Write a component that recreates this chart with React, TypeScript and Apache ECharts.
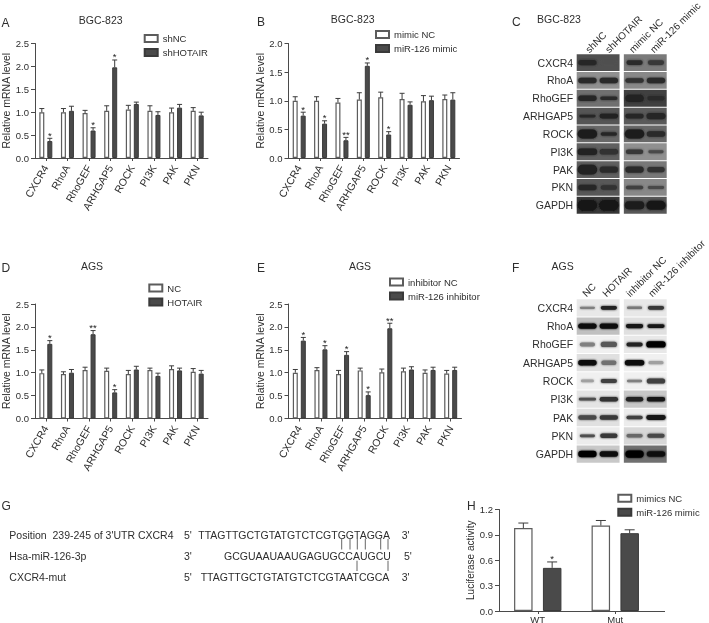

import React, { useEffect, useRef } from "react";
import * as echarts from "echarts";

const FONT = "Liberation Sans";
const TEXT = "#2e2e2e";
const AXIS = "#4a4a4a";
const DARK = "#4a4a4a";

const genes = ["CXCR4", "RhoA", "RhoGEF", "ARHGAP5", "ROCK", "PI3K", "PAK", "PKN"];
const blotRows = [...genes, "GAPDH"];

// Panel A
const aWhite = [1.0, 1.0, 0.98, 1.03, 1.06, 1.03, 1.0, 1.03];
const aWhiteErr = [1.08, 1.08, 1.04, 1.14, 1.15, 1.14, 1.09, 1.1];
const aDark = [0.37, 1.03, 0.6, 1.98, 1.18, 0.94, 1.1, 0.93];
const aDarkErr = [0.43, 1.13, 0.66, 2.14, 1.22, 1.01, 1.17, 1.0];
const aStars = ["*", "", "*", "*", "", "", "", ""];
// Panel B
const bWhite = [1.0, 1.0, 0.97, 1.02, 1.06, 1.03, 0.99, 1.03];
const bWhiteErr = [1.07, 1.07, 1.04, 1.14, 1.15, 1.13, 1.09, 1.1];
const bDark = [0.74, 0.6, 0.31, 1.61, 0.41, 0.93, 1.01, 1.02];
const bDarkErr = [0.8, 0.65, 0.36, 1.66, 0.46, 0.98, 1.08, 1.14];
const bStars = ["*", "*", "**", "*", "*", "", "", ""];
// Panel D
const dWhite = [0.99, 0.97, 1.06, 1.04, 0.97, 1.06, 1.08, 1.02];
const dWhiteErr = [1.06, 1.02, 1.12, 1.1, 1.05, 1.1, 1.15, 1.09];
const dDark = [1.63, 1.0, 1.84, 0.57, 1.07, 0.93, 1.05, 0.98];
const dDarkErr = [1.7, 1.07, 1.92, 0.63, 1.14, 0.99, 1.1, 1.05];
const dStars = ["*", "", "**", "*", "", "", "", ""];
// Panel E
const eWhite = [1.0, 1.06, 0.97, 1.05, 1.01, 1.03, 1.0, 0.98];
const eWhiteErr = [1.07, 1.11, 1.05, 1.1, 1.08, 1.1, 1.06, 1.05];
const eDark = [1.7, 1.51, 1.39, 0.51, 1.97, 1.07, 1.06, 1.06];
const eDarkErr = [1.77, 1.59, 1.46, 0.58, 2.08, 1.13, 1.12, 1.12];
const eStars = ["*", "*", "*", "*", "**", "", "", ""];
// Panel H
const hCats = ["WT", "Mut"];
const hWhite = [0.98, 1.01];
const hWhiteErr = [1.04, 1.07];
const hDark = [0.51, 0.92];
const hDarkErr = [0.58, 0.96];
const hStars = ["*", ""];

// Blot C, grey levels and band proportions
const cPanelGray = [[0x50, 0x7a], [0x90, 0x88], [0x70, 0x40], [0x55, 0x5a], [0x68, 0x68], [0x60, 0x90], [0x60, 0x78], [0x58, 0x88], [0x38, 0x58]];
const cBandGray = [[0x28, 0x50, 0x2c, 0x38], [0x2c, 0x2c, 0x30, 0x2c], [0x28, 0x2c, 0x20, 0x2c], [0x28, 0x20, 0x28, 0x28], [0x1c, 0x28, 0x1c, 0x2a], [0x20, 0x30, 0x38, 0x4a], [0x20, 0x2c, 0x2c, 0x30], [0x28, 0x30, 0x40, 0x48], [0x14, 0x14, 0x1c, 0x18]];
const cBandThick = [[0.3, 0.16, 0.26, 0.26], [0.3, 0.3, 0.26, 0.3], [0.3, 0.2, 0.4, 0.26], [0.16, 0.26, 0.26, 0.36], [0.5, 0.2, 0.5, 0.3], [0.36, 0.3, 0.26, 0.16], [0.55, 0.36, 0.36, 0.3], [0.3, 0.26, 0.2, 0.16], [0.6, 0.6, 0.45, 0.5]];
const cBandWide = [[0.95, 0.75, 0.85, 0.85], [0.95, 0.95, 0.95, 0.95], [0.95, 0.9, 0.95, 0.9], [0.85, 0.95, 0.95, 0.98], [1, 0.85, 1, 0.95], [1, 0.95, 0.9, 0.8], [1, 0.95, 0.95, 0.9], [0.95, 0.85, 0.9, 0.85], [1, 1, 1, 1]];
// Blot F
const fPanelGray = [[0xe8, 0xe8], [0xc0, 0xe0], [0xf0, 0xe8], [0xe0, 0xf0], [0xf0, 0xf0], [0xe4, 0xc8], [0xe0, 0xec], [0xec, 0xd8], [0xc8, 0x70]];
const fBandGray = [[0x80, 0x20, 0x78, 0x38], [0x08, 0x10, 0x18, 0x18], [0x80, 0x58, 0x20, 0x05], [0x08, 0x70, 0x08, 0xa0], [0xa0, 0x40, 0x80, 0x40], [0x50, 0x30, 0x20, 0x18], [0x48, 0x38, 0x40, 0x18], [0x50, 0x38, 0x68, 0x48], [0x05, 0x0c, 0x05, 0x10]];
const fBandThick = [[0.12, 0.2, 0.14, 0.2], [0.3, 0.28, 0.22, 0.2], [0.22, 0.28, 0.22, 0.35], [0.3, 0.25, 0.3, 0.18], [0.15, 0.22, 0.14, 0.28], [0.15, 0.25, 0.25, 0.25], [0.25, 0.25, 0.18, 0.27], [0.15, 0.25, 0.2, 0.22], [0.35, 0.3, 0.4, 0.3]];
const fBandWide = [[0.8, 0.85, 0.8, 0.85], [0.95, 0.95, 0.9, 0.9], [0.8, 0.85, 0.85, 1], [0.95, 0.8, 1, 0.8], [0.7, 0.85, 0.8, 0.95], [0.9, 0.95, 0.9, 0.95], [0.95, 0.95, 0.85, 1], [0.8, 0.9, 0.85, 0.9], [0.95, 0.95, 0.95, 0.95]];

const cLanes = ["shNC", "shHOTAIR", "mimic NC", "miR-126 mimic"];
const fLanes = ["NC", "HOTAIR", "inhibitor NC", "miR-126 inhibitor"];
const laneCenters = [0.5, 1.5, 2.7, 3.7];
const panelSpans = [[0, 2], [2.2, 4.2]];

const seqRows = [
  { label: "Position  239-245 of 3'UTR CXCR4", left: "5'", seq: "TTAGTTGCTGTATGTCTCGTGGTAGGA", right: "3'" },
  { label: "Hsa-miR-126-3p", left: "3'", seq: "GCGUAAUAAUGAGUGCCAUGCU", right: "5'" },
  { label: "CXCR4-mut", left: "5'", seq: "TTAGTTGCTGTATGTCTCGTAATCGCA", right: "3'" },
];

const gray = (v: number) => `rgb(${v},${v},${v})`;

function buildOption() {
  const grid: any[] = [], xAxis: any[] = [], yAxis: any[] = [], series: any[] = [], legend: any[] = [];
  const graphic: any[] = [];

  const text = (t: string, x: number, y: number, size: number, align = "left", extra: any = {}) => ({
    type: "text", x, y, silent: true, ...extra,
    style: { text: t, fontSize: size, fontFamily: FONT, fill: TEXT, align, textAlign: align, verticalAlign: "middle", textVerticalAlign: "middle" },
  });

  const barPanel = (p: any) => {
    const g = grid.length;
    grid.push({ left: p.left, top: p.top, width: p.width, height: p.height, containLabel: false, outerBoundsMode: "none" });
    xAxis.push({
      type: "category", gridIndex: g, data: p.cats,
      axisLine: { show: true, onZero: false, lineStyle: { color: AXIS, width: 1 } },
      axisTick: { show: true, length: 3, alignWithLabel: true, lineStyle: { color: AXIS } },
      axisLabel: { rotate: p.rotate, interval: 0, margin: p.labelMargin, fontSize: p.catSize, fontFamily: FONT, color: TEXT },
    });
    yAxis.push({
      type: "value", gridIndex: g, min: 0, max: p.max, interval: p.step,
      name: p.yName, nameLocation: "middle", nameGap: p.nameGap, nameRotate: 90,
      nameTextStyle: { fontSize: p.nameSize, fontFamily: FONT, color: TEXT },
      axisLine: { show: true, lineStyle: { color: AXIS, width: 1 } },
      axisTick: { show: true, length: 4, lineStyle: { color: AXIS } },
      splitLine: { show: false },
      axisLabel: { margin: 6, fontSize: 9.5, fontFamily: FONT, color: TEXT, formatter: (v: number) => v.toFixed(1) },
    });
    const mk = (name: string, vals: number[], style: any) => ({
      type: "bar", name, xAxisIndex: g, yAxisIndex: g, data: vals, barWidth: p.barW, barGap: p.barGap,
      itemStyle: style,
    });
    series.push(mk(p.names[0], p.white, { color: "#ffffff", borderColor: "#5c5c5c", borderWidth: 1.2 }));
    series.push(mk(p.names[1], p.dark, { color: DARK, borderColor: "#3a3a3a", borderWidth: 1 }));
    const err = (vals: number[], errs: number[], off: number, stars: string[] | null) => ({
      type: "custom", xAxisIndex: g, yAxisIndex: g, z: 5, silent: true,
      encode: { x: 0, y: 1 },
      data: vals.map((v, i) => [i, v, errs[i]]),
      renderItem: (params: any, api: any) => {
        const base = api.coord([api.value(0), api.value(1)]);
        const top = api.coord([api.value(0), api.value(2)]);
        const x = base[0] + off;
        const st = { stroke: "#3c3c3c", lineWidth: 1 };
        const children: any[] = [
          { type: "line", shape: { x1: x, y1: base[1], x2: x, y2: top[1] }, style: st },
          { type: "line", shape: { x1: x - p.cap, y1: top[1], x2: x + p.cap, y2: top[1] }, style: st },
        ];
        const s = stars ? stars[params.dataIndex] : "";
        if (s) {
          children.push({
            type: "text",
            style: { text: s, x, y: top[1] - 3, align: "center", verticalAlign: "middle", textAlign: "center", textVerticalAlign: "middle", fontSize: 9.5, fontFamily: FONT, fill: "#222" },
          });
        }
        return { type: "group", children };
      },
    });
    series.push(err(p.white, p.whiteErr, -p.offset, null));
    series.push(err(p.dark, p.darkErr, p.offset, p.stars));
    legend.push({
      show: true, orient: "vertical", left: p.legend[0], top: p.legend[1], itemWidth: 13, itemHeight: 7, itemGap: 4, padding: 0,
      selectedMode: false, icon: "rect", data: p.names,
      textStyle: { fontSize: 9.5, fontFamily: FONT, color: TEXT, padding: 0 },
    });
  };

  const common = { width: 173, height: 114.5, barW: 5, barGap: "60%", offset: 4, cap: 2.5, rotate: 60, labelMargin: 8, catSize: 10.5, nameSize: 10.5, cats: genes, yName: "Relative mRNA level" };
  barPanel({ ...common, left: 35, top: 43.5, max: 2.5, step: 0.5, nameGap: 23.5, names: ["shNC", "shHOTAIR"], white: aWhite, whiteErr: aWhiteErr, dark: aDark, darkErr: aDarkErr, stars: aStars, legend: [143.7, 33.5] });
  barPanel({ ...common, left: 288.5, top: 43.5, width: 171, max: 2.0, step: 0.5, nameGap: 23, names: ["mimic NC", "miR-126 mimic"], white: bWhite, whiteErr: bWhiteErr, dark: bDark, darkErr: bDarkErr, stars: bStars, legend: [375, 29.5] });
  barPanel({ ...common, left: 35, top: 304, max: 2.5, step: 0.5, nameGap: 23.5, names: ["NC", "HOTAIR"], white: dWhite, whiteErr: dWhiteErr, dark: dDark, darkErr: dDarkErr, stars: dStars, legend: [148.3, 283] });
  barPanel({ ...common, left: 288.5, top: 304, max: 2.5, step: 0.5, nameGap: 23, names: ["inhibitor NC", "miR-126 inhibitor"], white: eWhite, whiteErr: eWhiteErr, dark: eDark, darkErr: eDarkErr, stars: eStars, legend: [389, 277] });
  barPanel({ ...common, left: 499, top: 509.5, width: 155, height: 101.5, max: 1.2, step: 0.3, barW: 18.5, barGap: "56%", offset: 14.4, cap: 5, rotate: 0, labelMargin: 3, catSize: 9.5, nameSize: 10, cats: hCats, yName: "Luciferase activity", nameGap: 20, names: ["mimics NC", "miR-126 mimic"], white: hWhite, whiteErr: hWhiteErr, dark: hDark, darkErr: hDarkErr, stars: hStars, legend: [617.3, 493.3] });
  graphic.push({ type: "line", shape: { x1: 654, y1: 611.5, x2: 665, y2: 611.5 }, style: { stroke: AXIS, lineWidth: 1 } });

  const blot = (top: number, height: number, panelGray: number[][], bandGray: number[][], thick: number[][], wide: number[][]) => {
    const g = grid.length;
    grid.push({ left: 576.7, top, width: 90, height, outerBoundsMode: "none" });
    xAxis.push({ type: "value", gridIndex: g, min: 0, max: 4.2, show: false });
    yAxis.push({
      type: "category", gridIndex: g, inverse: true, data: blotRows,
      axisLine: { show: false }, axisTick: { show: false },
      axisLabel: { margin: 3.5, interval: 0, fontSize: 10.5, fontFamily: FONT, color: TEXT },
    });
    const bg: any[] = [];
    panelGray.forEach((r, ri) => r.forEach((v, pi) => bg.push([panelSpans[pi][0], ri, panelSpans[pi][1], v])));
    series.push({
      type: "custom", xAxisIndex: g, yAxisIndex: g, silent: true, z: 1, clip: false,
      encode: { x: 0, y: 1 }, data: bg,
      renderItem: (_: any, api: any) => {
        const a = api.coord([api.value(0), api.value(1)]);
        const b = api.coord([api.value(2), api.value(1)]);
        const h = api.size([0, 1])[1];
        return { type: "rect", shape: { x: a[0], y: a[1] - h / 2 + 0.5, width: b[0] - a[0], height: h - 1 }, style: { fill: gray(api.value(3)) } };
      },
    });
    const bands: any[] = [];
    bandGray.forEach((r, ri) => r.forEach((v, li) => bands.push([laneCenters[li], ri, v, thick[ri][li], wide[ri][li]])));
    series.push({
      type: "custom", xAxisIndex: g, yAxisIndex: g, silent: true, z: 2, clip: false,
      encode: { x: 0, y: 1 }, data: bands,
      renderItem: (_: any, api: any) => {
        const c = api.coord([api.value(0), api.value(1)]);
        const s = api.size([1, 1]);
        const col = gray(api.value(2));
        const w = s[0] * api.value(4) - 2;
        const h = Math.max(1.6, s[1] * api.value(3));
        return {
          type: "rect",
          shape: { x: c[0] - w / 2, y: c[1] - h / 2, width: w, height: h, r: h / 2 },
          style: { fill: col, shadowBlur: 2, shadowColor: col },
        };
      },
    });
  };
  blot(53.7, 160.5, cPanelGray, cBandGray, cBandThick, cBandWide);
  blot(298.7, 164.5, fPanelGray, fBandGray, fBandThick, fBandWide);

  const rot = { rotation: Math.PI / 4 };
  [587, 606.7, 630.7, 651.7].forEach((x, i) => graphic.push(text(cLanes[i], x, 51, 10, "left", rot)));
  [584, 604, 627.7, 650].forEach((x, i) => graphic.push(text(fLanes[i], x, 295, 10, "left", rot)));

  [["A", 1.5, 22.5], ["B", 257, 22], ["C", 512, 22], ["D", 1.5, 268], ["E", 257, 268], ["F", 512, 268], ["G", 1.5, 506], ["H", 467, 506]].forEach((l: any) =>
    graphic.push(text(l[0], l[1], l[2], 12))
  );
  [["BGC-823", 100.7, 20], ["BGC-823", 352.7, 19], ["BGC-823", 559, 19], ["AGS", 92, 265.7], ["AGS", 360, 265.7], ["AGS", 562.7, 265.7]].forEach((l: any) =>
    graphic.push(text(l[0], l[1], l[2], 10.5, "center"))
  );

  const rowY = [534.5, 556, 576.5];
  const seqX = [198.3, 224, 200.7];
  const rightX = [401.7, 404, 401.7];
  seqRows.forEach((r, i) => {
    graphic.push(text(r.label, 9.3, rowY[i], 10.5));
    graphic.push(text(r.left, 184, rowY[i], 10.5));
    graphic.push(text(r.seq, seqX[i], rowY[i], 10.5));
    graphic.push(text(r.right, rightX[i], rowY[i], 10.5));
  });
  const linkStyle = { stroke: "#666", lineWidth: 1 };
  [341.7, 350, 357.3, 365.3, 380.7, 388].forEach((x) =>
    graphic.push({ type: "line", shape: { x1: x, y1: 539, x2: x, y2: 549.5 }, style: linkStyle })
  );
  [357, 388].forEach((x) =>
    graphic.push({ type: "line", shape: { x1: x, y1: 560.7, x2: x, y2: 571 }, style: linkStyle })
  );

  return { animation: false, backgroundColor: "#ffffff", grid, xAxis, yAxis, series, legend, graphic };
}

export default function App() {
  const ref = useRef<HTMLDivElement>(null);
  useEffect(() => {
    const chart = echarts.init(ref.current!, undefined, { renderer: "svg" });
    chart.setOption(buildOption() as any);
    return () => chart.dispose();
  }, []);
  return <div ref={ref} style={{ position: "absolute", left: 0, top: 0, width: 709, height: 623, filter: "blur(0.35px)" }} />;
}
